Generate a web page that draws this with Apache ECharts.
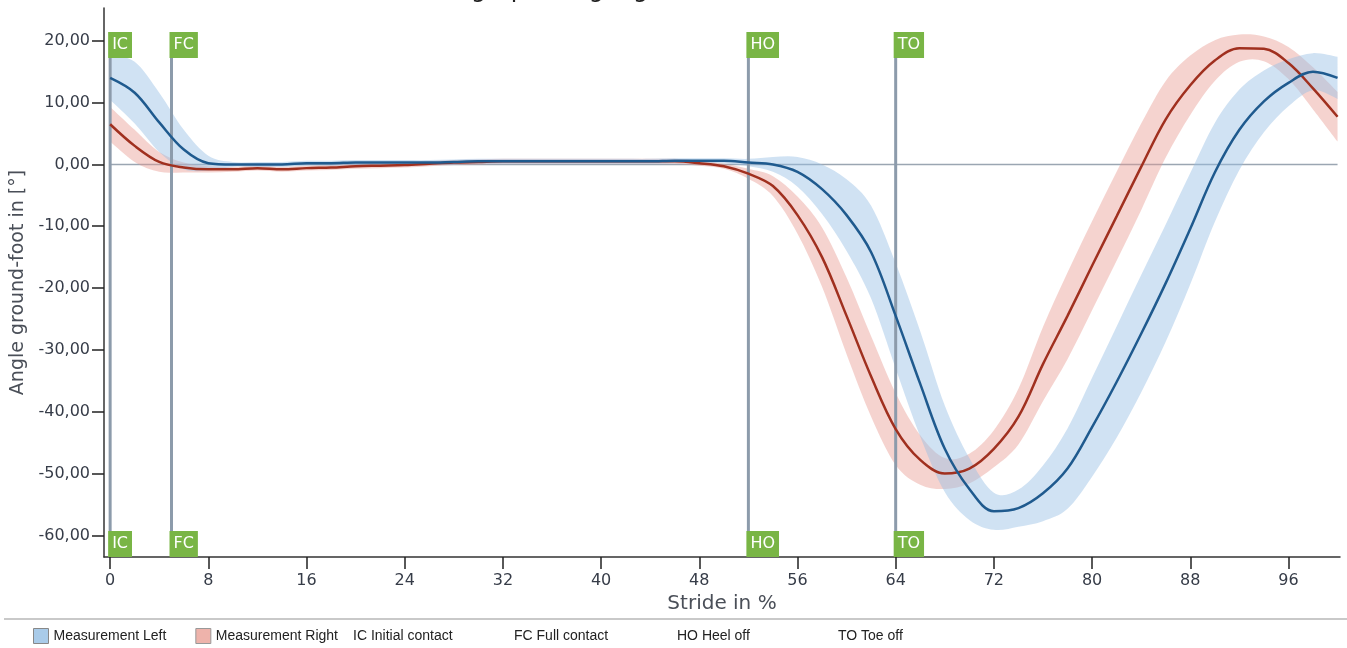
<!DOCTYPE html>
<html><head><meta charset="utf-8">
<script src="https://cdn.jsdelivr.net/npm/echarts@6/dist/echarts.min.js"></script>
<style>html,body{margin:0;padding:0;background:#fff}#c{width:1347px;height:648px}</style>
</head><body><div id="c"></div>
<script>
// ---------- data ----------
const stride = [0,2,4,6,8,10,12,14,16,18,20,22,24,26,28,30,32,34,36,38,40,42,44,46,48,50,52,54,56,58,60,62,64,66,68,70,72,74,76,78,80,82,84,86,88,90,92,94,96,98,100];
const leftMean = [14.0,11.6,6.8,2.4,0.2,0.0,0.0,0.0,0.2,0.2,0.3,0.3,0.3,0.3,0.4,0.5,0.5,0.5,0.5,0.5,0.5,0.5,0.5,0.6,0.6,0.6,0.3,0.0,-1.2,-4.0,-8.2,-14.2,-24.5,-35.5,-46.0,-52.5,-56.1,-55.6,-53.2,-49.2,-42.5,-35.2,-27.4,-19.2,-10.4,-1.3,5.6,10.2,13.2,15.0,14.0];
const leftSd = [3.6,5.0,4.8,3.2,1.2,0.4,0.4,0.4,0.4,0.4,0.4,0.4,0.4,0.4,0.4,0.4,0.4,0.4,0.4,0.4,0.4,0.4,0.4,0.4,0.4,0.4,0.6,1.2,2.4,4.0,5.8,7.5,8.5,8.5,7.0,5.0,3.0,3.0,4.5,6.5,8.0,9.0,9.5,9.5,9.0,8.0,6.5,5.0,3.8,3.0,3.4];
const rightMean = [6.5,3.0,0.4,-0.5,-0.8,-0.8,-0.6,-0.8,-0.6,-0.5,-0.3,-0.2,-0.1,0.1,0.3,0.4,0.5,0.5,0.5,0.5,0.5,0.5,0.5,0.5,0.2,-0.3,-1.5,-3.5,-8.2,-15.0,-24.5,-34.3,-42.8,-47.8,-50.0,-49.2,-46.0,-40.8,-32.3,-24.5,-16.4,-8.4,-0.4,7.3,12.8,16.8,18.8,18.7,16.4,12.3,7.7];
const rightSd = [2.8,2.6,1.6,0.8,0.5,0.4,0.4,0.4,0.4,0.4,0.4,0.4,0.4,0.4,0.4,0.4,0.4,0.4,0.4,0.4,0.4,0.4,0.4,0.4,0.4,0.4,0.8,1.6,3.0,4.8,6.2,6.5,5.8,4.0,2.5,2.4,3.0,4.5,6.0,7.0,7.2,7.2,7.0,6.2,4.8,3.3,2.2,2.0,2.6,3.4,4.0];
const eventPos = [0,5,52,64];
const eventCodes = ['IC','FC','HO','TO'];
const eventLegend = ['IC Initial contact','FC Full contact','HO Heel off','TO Toe off'];
const seriesNames = ['Measurement Left','Measurement Right'];
const yTicks = [-60,-50,-40,-30,-20,-10,0,10,20];
const xTicks = [0,8,16,24,32,40,48,56,64,72,80,88,96];
const xAxisTitle = 'Stride in %';
const yAxisTitle = 'Angle ground-foot in [°]';
const titleText = 'Movement graph: Angle ground-foot';

// ---------- helpers ----------
function pairs(xs, ys){ return xs.map((x,i)=>[x, ys[i]]); }
function crPath(pts, moveFirst){
  let d = moveFirst ? ('M' + pts[0][0] + ',' + pts[0][1]) : ('L' + pts[0][0] + ',' + pts[0][1]);
  for (let i = 0; i < pts.length - 1; i++) {
    const p0 = pts[Math.max(i-1,0)], p1 = pts[i], p2 = pts[i+1], p3 = pts[Math.min(i+2, pts.length-1)];
    const c1 = [p1[0] + (p2[0]-p0[0])/6, p1[1] + (p2[1]-p0[1])/6];
    const c2 = [p2[0] - (p3[0]-p1[0])/6, p2[1] - (p3[1]-p1[1])/6];
    d += 'C' + c1[0] + ',' + c1[1] + ',' + c2[0] + ',' + c2[1] + ',' + p2[0] + ',' + p2[1];
  }
  return d;
}
function bandSeries(name, mean, sd, color){
  return {
    name: name, type: 'custom', z: 1, silent: true,
    data: [[stride[0], mean[0]]],
    renderItem: function(params, api){
      const up = stride.map((x,i)=>api.coord([x, mean[i] + sd[i]]));
      const lo = stride.map((x,i)=>api.coord([x, mean[i] - sd[i]])).reverse();
      const d = crPath(up, true) + crPath(lo, false) + 'Z';
      return {type:'path', shape:{pathData:d}, style:{fill: color, stroke: null}};
    }
  };
}

const font = '"DejaVu Sans", sans-serif';
const chart = echarts.init(document.getElementById('c'), null, {renderer:'canvas'});
const option = {
  animation: false,
  backgroundColor: '#fff',
  grid: {left:104, right:7, top:8, bottom:91},
  xAxis: {
    type:'value', min:-0.5, max:100.2,
    axisLine:{show:true, onZero:false, lineStyle:{color:'#333', width:1.5}},
    axisTick:{show:true, length:12, customValues:xTicks, lineStyle:{color:'#222', width:1.5}},
    axisLabel:{customValues:xTicks, margin:16, fontFamily:font, fontSize:16, color:'#363c48'},
    splitLine:{show:false},
    name:xAxisTitle, nameLocation:'middle', nameGap:37,
    nameTextStyle:{fontFamily:font, fontSize:20, color:'#4a4f58'}
  },
  yAxis: {
    type:'value', min:-63.5, max:25.3,
    axisLine:{show:true, onZero:false, lineStyle:{color:'#333', width:1.5}},
    axisTick:{show:true, length:12, customValues:yTicks, lineStyle:{color:'#222', width:1.5}},
    axisLabel:{customValues:yTicks, margin:14, fontFamily:font, fontSize:16, color:'#363c48',
      formatter: v => v.toFixed(2).replace('.', ',')},
    splitLine:{show:false},
    name:yAxisTitle, nameLocation:'middle', nameGap:76,
    nameTextStyle:{fontFamily:font, fontSize:19, color:'#4a4f58'}
  },
  legend: {
    left:33, top:628, padding:0, itemWidth:15, itemHeight:15, itemGap:29,
    textStyle:{fontFamily:'"Liberation Sans", Arial, sans-serif', fontSize:14, color:'#222'},
    data:[
      {name:seriesNames[0], icon:'rect', itemStyle:{color:'#a9cbe9', borderColor:'#888', borderWidth:1}},
      {name:seriesNames[1], icon:'rect', itemStyle:{color:'#eeb3ab', borderColor:'#999', borderWidth:1}}
    ],
    selectedMode:false
  },
  graphic: [
    {type:'text', x:555, y:3, silent:true, style:{text:titleText, font:'24px ' + font, fill:'#222', align:'center', verticalAlign:'bottom'}},
    {type:'line', silent:true, shape:{x1:4, y1:619, x2:1347, y2:619}, style:{stroke:'#c9c9c9', lineWidth:2}}
  ].concat(eventLegend.map((t,i)=>({
    type:'text', x:[353,514,677,838][i], y:636, silent:true,
    style:{text:t, font:'14px "Liberation Sans", Arial, sans-serif', fill:'#222', align:'left', verticalAlign:'middle'}
  }))),
  series: [
    {
      name:'zero', type:'custom', z:0, silent:true, data:[[stride[0],0]],
      renderItem: function(params, api){
        const a = api.coord([stride[0],0]), b = api.coord([stride[stride.length-1],0]);
        return {type:'line', shape:{x1:a[0], y1:a[1], x2:b[0], y2:b[1]}, style:{stroke:'#9ba6b2', lineWidth:1.5}};
      }
    },
    bandSeries(seriesNames[1], rightMean, rightSd, 'rgba(232,150,140,0.42)'),
    bandSeries(seriesNames[0], leftMean, leftSd, 'rgba(150,190,228,0.45)'),
    {
      name:'events', type:'custom', z:3, silent:true,
      data: eventPos.map((x,i)=>[x,i]),
      renderItem: function(params, api){
        const p = api.coord([api.value(0), 0]);
        const cs = params.coordSys;
        const top = cs.y, bottom = cs.y + cs.height;
        const code = eventCodes[params.dataIndex];
        const box = (y)=>({type:'text', x:p[0]-2, y:y, z2:10,
          style:{text:code, font:'16px ' + font, fill:'#fff', backgroundColor:'#79b545',
                 padding:[4,4,4,4], lineHeight:18, align:'left', verticalAlign:'top'}});
        return {type:'group', children:[
          {type:'line', shape:{x1:p[0], y1:top+50, x2:p[0], y2:bottom-26}, style:{stroke:'#8c9bab', lineWidth:3}},
          box(top+24), box(bottom-26)
        ]};
      }
    },
    {
      name:seriesNames[1], type:'line', z:4, smooth:0.35, symbol:'none', silent:true,
      data: pairs(stride, rightMean),
      lineStyle:{color:'#a0301f', width:2.5}, itemStyle:{color:'#eeb3ab'}
    },
    {
      name:seriesNames[0], type:'line', z:5, smooth:0.35, symbol:'none', silent:true,
      data: pairs(stride, leftMean),
      lineStyle:{color:'#1f5a8e', width:2.5}, itemStyle:{color:'#a9cbe9'}
    }
  ]
};
chart.setOption(option);
</script>
</body></html>
